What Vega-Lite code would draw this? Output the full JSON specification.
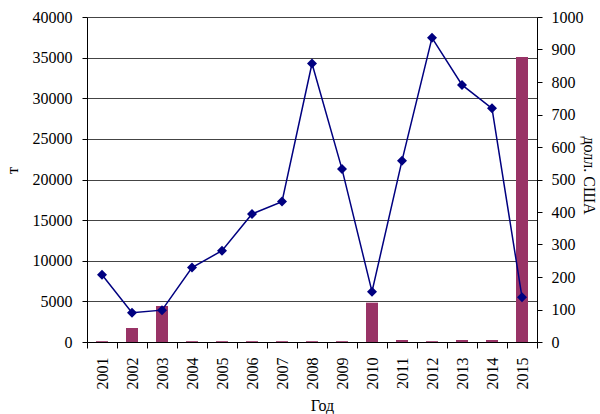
{
  "$schema": "https://vega.github.io/schema/vega-lite/v6.json",
  "autosize": "none",
  "width": 450,
  "height": 325,
  "padding": {"left": 87, "top": 17, "right": 63, "bottom": 72},
  "background": "white",
  "config": {
    "font": "Liberation Serif",
    "view": {"stroke": null},
    "axis": {
      "labelFont": "Liberation Serif",
      "titleFont": "Liberation Serif",
      "labelFontSize": 16,
      "titleFontSize": 16,
      "labelColor": "black",
      "titleColor": "black",
      "titleFontWeight": "normal",
      "domainColor": "black",
      "tickColor": "black",
      "tickSize": 5,
      "labelOverlap": false
    }
  },
  "data": {
    "values": [
      {"year": "2001", "t": 100, "usd": 207},
      {"year": "2002", "t": 1720, "usd": 90},
      {"year": "2003", "t": 4430, "usd": 98},
      {"year": "2004", "t": 100, "usd": 229},
      {"year": "2005", "t": 100, "usd": 281},
      {"year": "2006", "t": 100, "usd": 394},
      {"year": "2007", "t": 100, "usd": 432},
      {"year": "2008", "t": 100, "usd": 857},
      {"year": "2009", "t": 100, "usd": 532},
      {"year": "2010", "t": 4840, "usd": 155},
      {"year": "2011", "t": 250, "usd": 558},
      {"year": "2012", "t": 100, "usd": 936},
      {"year": "2013", "t": 250, "usd": 791},
      {"year": "2014", "t": 250, "usd": 719},
      {"year": "2015", "t": 35080, "usd": 138}
    ]
  },
  "encoding": {
    "x": {
      "field": "year",
      "type": "ordinal",
      "scale": {"type": "band", "paddingInner": 0, "paddingOuter": 0},
      "axis": {
        "title": "Год",
        "labelAngle": 270,
        "labelAlign": "right",
        "labelBaseline": "middle",
        "labelPadding": 9,
        "labelFontSize": 16,
        "tickBand": "extent",
        "tickSize": 6,
        "titleFontSize": 16,
        "titleX": 235,
        "titleY": 63,
        "titleAlign": "center",
        "titleBaseline": "middle"
      }
    }
  },
  "layer": [
    {
      "mark": {"type": "bar", "color": "#993366", "width": {"band": 0.4}},
      "encoding": {
        "y": {
          "field": "t",
          "type": "quantitative",
          "scale": {"domain": [0, 40000], "nice": false},
          "axis": {
            "title": "т",
            "orient": "left",
            "values": [0, 5000, 10000, 15000, 20000, 25000, 30000, 35000, 40000],
            "format": "d",
            "grid": true,
            "gridColor": "#444444",
            "gridWidth": 1,
            "labelFontSize": 16,
            "labelPadding": 10,
            "titleAngle": 270,
            "titleX": -75,
            "titleY": 153,
            "titleAlign": "center",
            "titleBaseline": "middle"
          }
        }
      }
    },
    {
      "mark": {"type": "line", "color": "#000080", "strokeWidth": 1.5, "point": {"shape": "diamond", "size": 100, "color": "#000080", "filled": true}},
      "encoding": {
        "y": {
          "field": "usd",
          "type": "quantitative",
          "scale": {"domain": [0, 1000], "nice": false},
          "axis": {
            "title": "долл. США",
            "orient": "right",
            "values": [0, 100, 200, 300, 400, 500, 600, 700, 800, 900, 1000],
            "format": "d",
            "grid": false,
            "labelFontSize": 16,
            "labelPadding": 9,
            "titleAngle": 90,
            "titleX": 51,
            "titleY": 158,
            "titleAlign": "center",
            "titleBaseline": "middle"
          }
        }
      }
    }
  ],
  "resolve": {"scale": {"y": "independent"}}
}
